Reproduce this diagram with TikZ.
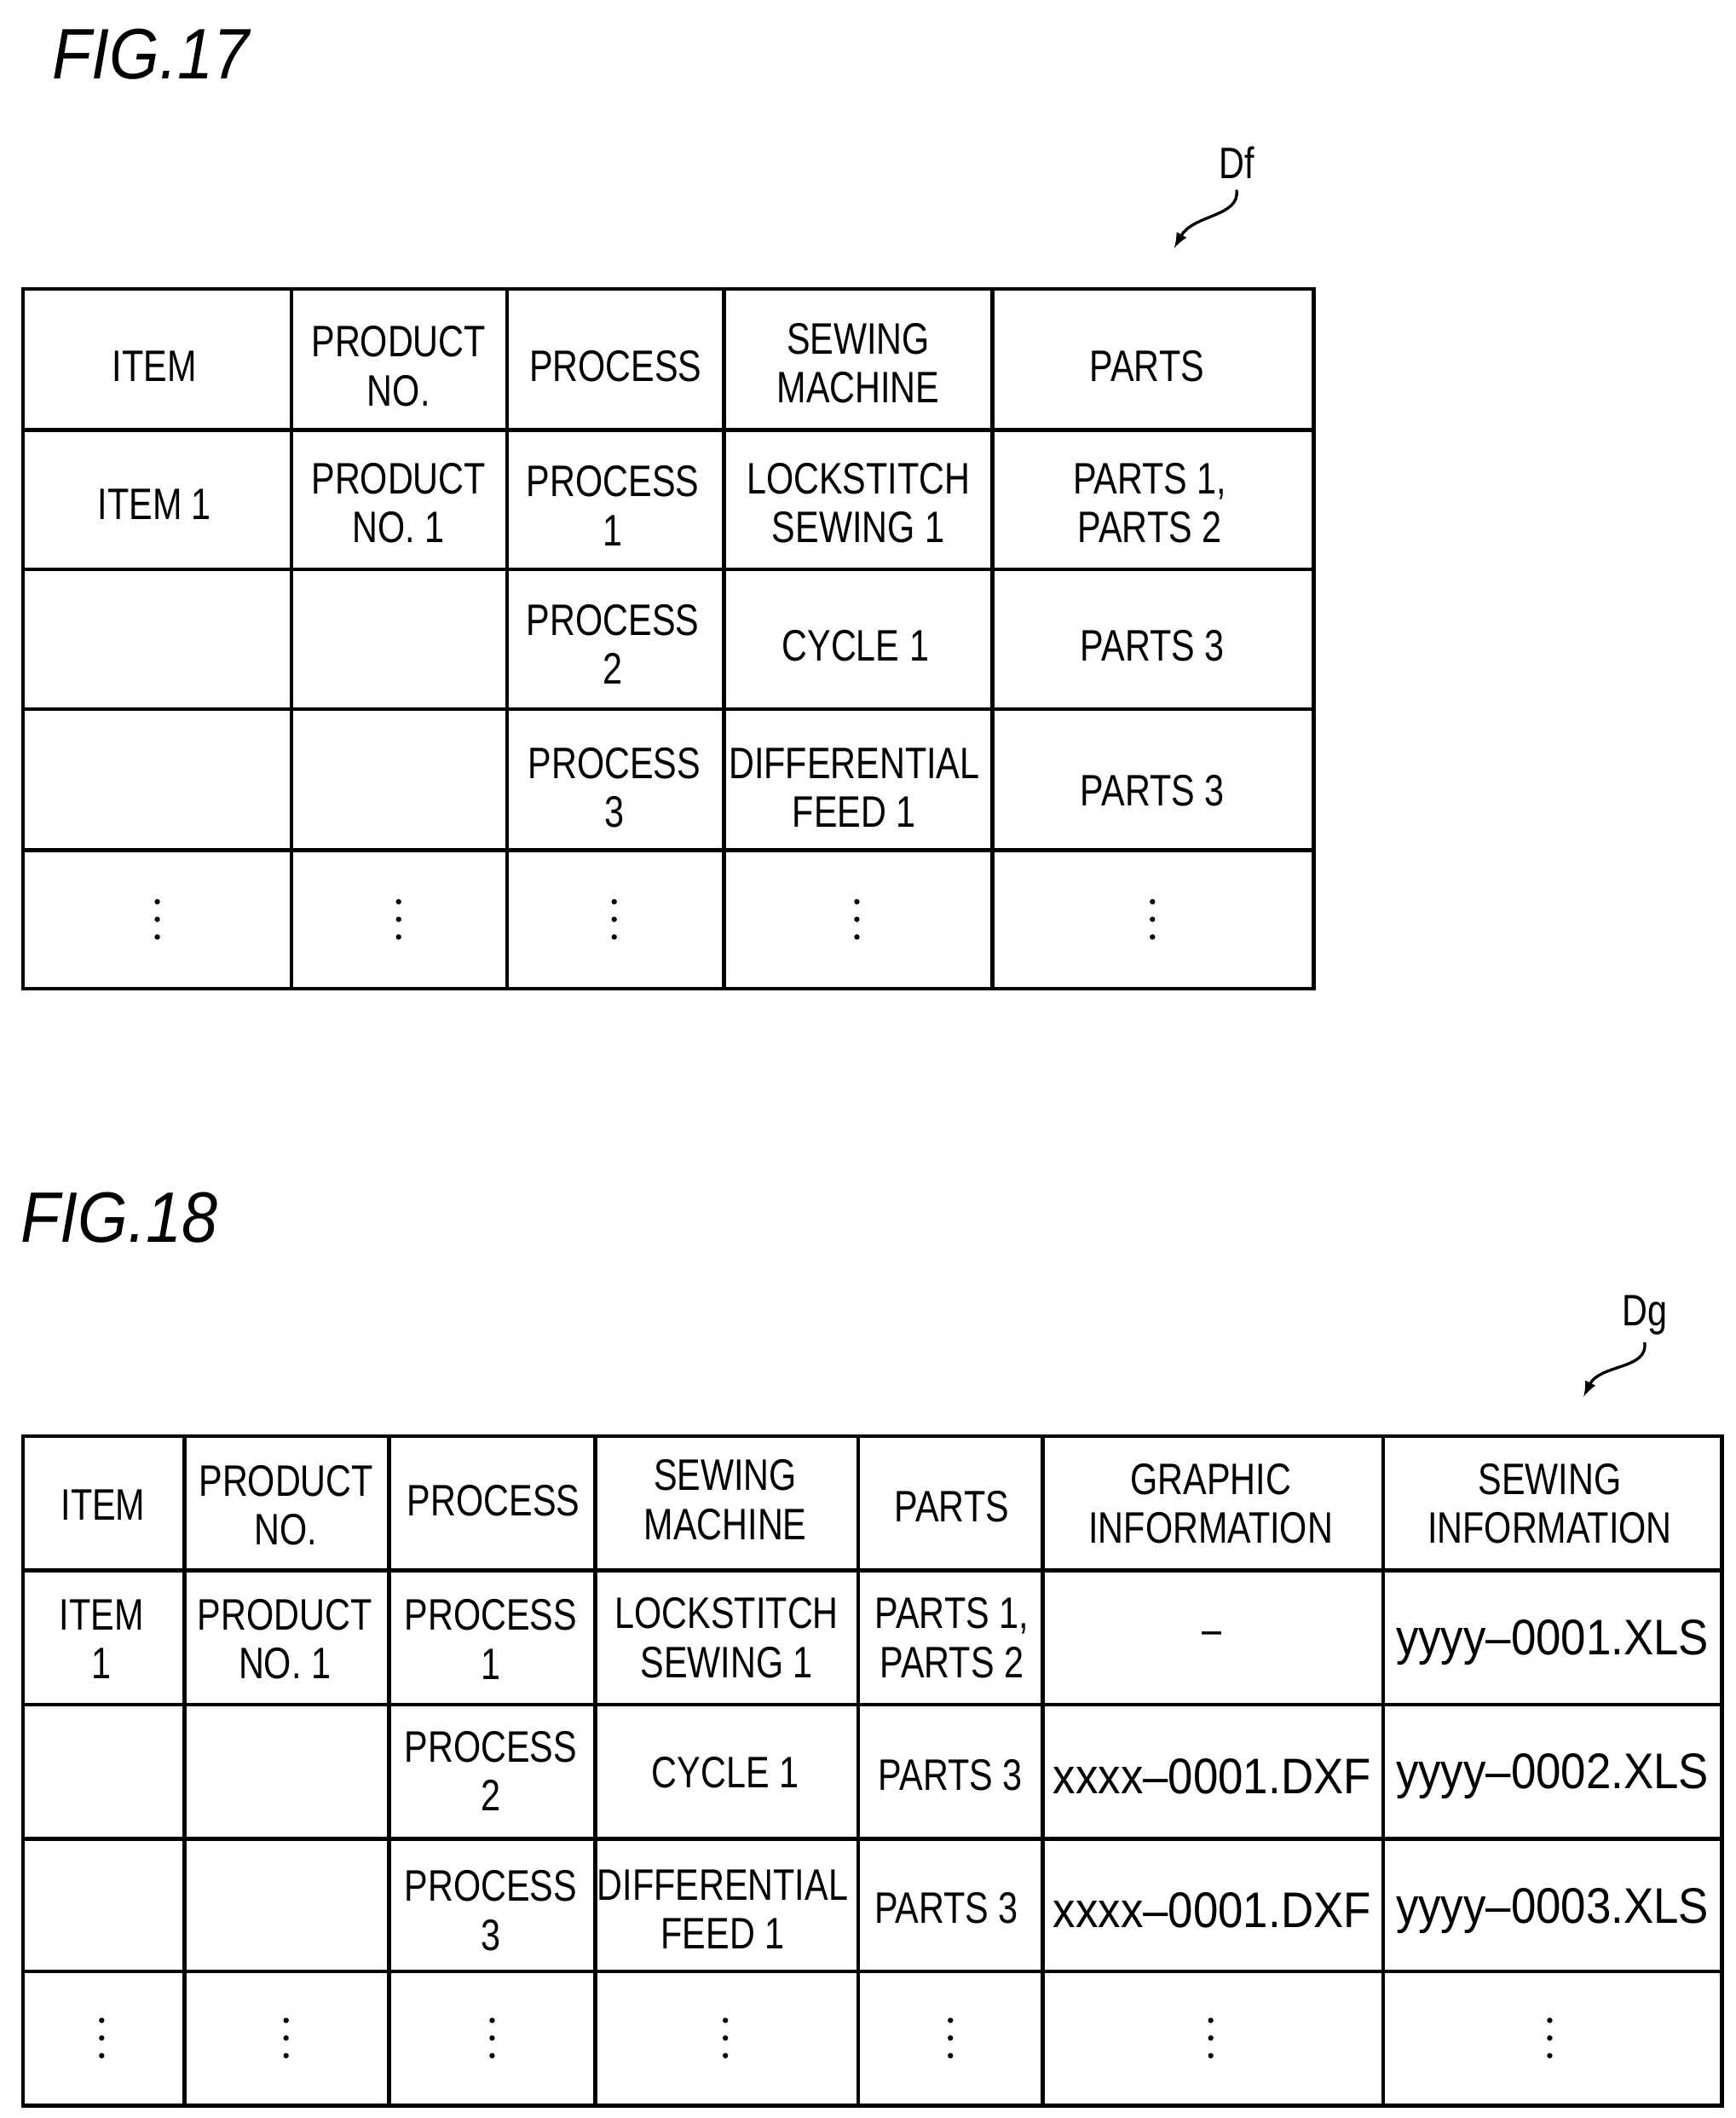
\documentclass[tikz,border=0pt]{standalone}
\usepackage{fontspec}
\setmainfont{Liberation Sans}
\begin{document}
\begin{tikzpicture}[x=0.02cm,y=-0.02cm,
  cell/.style={align=center,font=\fontsize{18.5}{20.5}\selectfont,inner sep=0pt,xscale=0.8},
  fname/.style={align=center,font=\fontsize{21}{23}\selectfont,inner sep=0pt,xscale=0.9},
  fig/.style={font=\fontsize{30}{32}\selectfont\itshape,anchor=west,xscale=0.9},
  grid/.style={line width=1.6pt}]
\useasboundingbox (0,0) rectangle (1280,1562);
\newcommand{\mydots}[2]{\foreach \d in {-13,0,13} \fill (#1,#2+\d) circle (2);}
\node[fig] (f17) at (33,40) {FIG.17};
\node[fig] (f18) at (10,898) {FIG.18};
% table 1
\draw[grid] (17,213) rectangle (969,729);
\foreach \x in {215,374,534,732} \draw[grid] (\x,213) -- (\x,729);
\foreach \y in {317,420,523,627} \draw[grid] (17,\y) -- (969,\y);
\node[cell] (a1) at (114,270) {ITEM};
\node[cell] (a2) at (294,270) {PRODUCT\\NO.};
\node[cell] (a3) at (454,270) {PROCESS};
\node[cell] (a4) at (633,268) {SEWING\\MACHINE};
\node[cell] (a5) at (846,270) {PARTS};
\node[cell] (b1) at (114,372) {ITEM 1};
\node[cell] (b2) at (294,371) {PRODUCT\\NO. 1};
\node[cell] (b3) at (452,373) {PROCESS\\1};
\node[cell] (b4) at (633,371) {LOCKSTITCH\\SEWING 1};
\node[cell] (b5) at (848,371) {PARTS 1,\\PARTS 2};
\node[cell] (c3) at (452,475) {PROCESS\\2};
\node[cell] (c4) at (631,476) {CYCLE 1};
\node[cell] (c5) at (850,476) {PARTS 3};
\node[cell] (d3) at (453,581) {PROCESS\\3};
\node[cell] (d4) at (630,581) {DIFFERENTIAL\\FEED 1};
\node[cell] (d5) at (850,583) {PARTS 3};
\foreach \x in {116,294,453,632,850} {\mydots{\x}{678}}
\node[cell] (df) at (912,120) {Df};
\coordinate (dft) at (866,183);
\draw[line width=1.2pt,-latex] (912,140) .. controls (915,160) and (880,158) .. (dft);
% table 2
\draw[grid] (17,1059) rectangle (1270,1553);
\foreach \x in {136,287,439,633,769,1020} \draw[grid] (\x,1059) -- (\x,1553);
\foreach \y in {1158,1257,1356,1454} \draw[grid] (17,\y) -- (1270,\y);
\node[cell] (g1) at (76,1110) {ITEM};
\node[cell] (g2) at (211,1110) {PRODUCT\\NO.};
\node[cell] (g3) at (364,1107) {PROCESS};
\node[cell] (g4) at (535,1106) {SEWING\\MACHINE};
\node[cell] (g5) at (702,1111) {PARTS};
\node[cell] (g6) at (893,1109) {GRAPHIC\\INFORMATION};
\node[cell] (g7) at (1143,1109) {SEWING\\INFORMATION};
\node[cell] (h1) at (75,1209) {ITEM\\1};
\node[cell] (h2) at (210,1209) {PRODUCT\\NO. 1};
\node[cell] (h3) at (362,1209) {PROCESS\\1};
\node[cell] (h4) at (536,1208) {LOCKSTITCH\\SEWING 1};
\node[cell] (h5) at (702,1208) {PARTS 1,\\PARTS 2};
\node[cell] (h6) at (894,1208) {--};
\node[fname] (h7) at (1145,1211) {yyyy\textendash0001.XLS};
\node[cell] (i3) at (362,1306) {PROCESS\\2};
\node[cell] (i4) at (535,1307) {CYCLE 1};
\node[cell] (i5) at (701,1309) {PARTS 3};
\node[fname] (i6) at (894,1310) {xxxx\textendash0001.DXF};
\node[fname] (i7) at (1145,1310) {yyyy\textendash0002.XLS};
\node[cell] (j3) at (362,1409) {PROCESS\\3};
\node[cell] (j4) at (533,1408) {DIFFERENTIAL\\FEED 1};
\node[cell] (j5) at (698,1407) {PARTS 3};
\node[fname] (j6) at (894,1409) {xxxx\textendash0001.DXF};
\node[fname] (j7) at (1145,1409) {yyyy\textendash0003.XLS};
\foreach \x in {75,211,363,535,701,893,1143} {\mydots{\x}{1503}}
\node[cell] (dg) at (1213,970) {Dg};
\coordinate (dgt) at (1168,1030);
\draw[line width=1.2pt,-latex] (1213,990) .. controls (1216,1010) and (1180,1006) .. (dgt);
\end{tikzpicture}
\end{document}
